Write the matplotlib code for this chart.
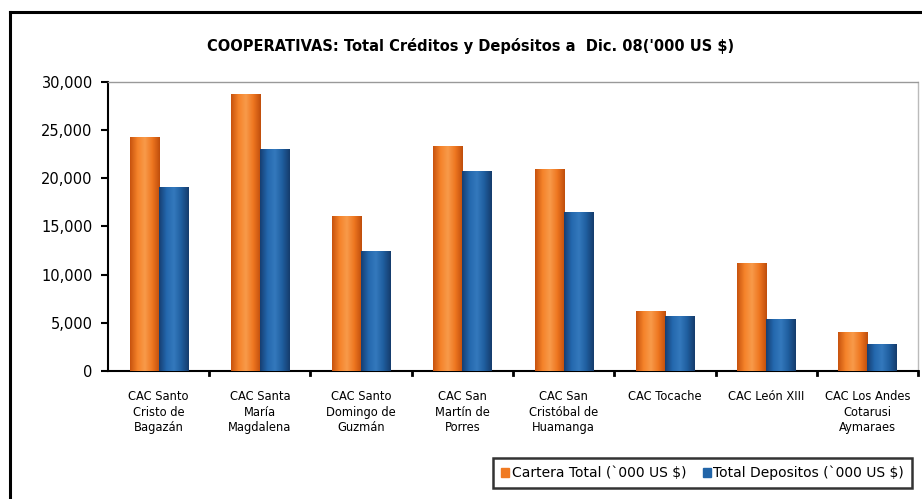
import numpy as np
import matplotlib
matplotlib.use("Agg")
import matplotlib.pyplot as plt
from matplotlib.patches import Rectangle
from matplotlib.lines import Line2D
from matplotlib.colors import LinearSegmentedColormap

categories = ["CAC Santo\nCristo de\nBagazán", "CAC Santa\nMaría\nMagdalena",
              "CAC Santo\nDomingo de\nGuzmán", "CAC San\nMartín de\nPorres",
              "CAC San\nCristóbal de\nHuamanga", "CAC Tocache", "CAC León XIII",
              "CAC Los Andes\nCotarusi\nAymaraes"]
cartera = [24300, 28800, 16100, 23400, 21000, 6250, 11200, 4000]
depositos = [19100, 23000, 12500, 20800, 16550, 5750, 5350, 2850]
series_names = ["Cartera Total (`000 US $)", "Total Depositos (`000 US $)"]
yticks = [0, 5000, 10000, 15000, 20000, 25000, 30000]

plt.rcParams['font.family'] = ['DejaVu Sans']

fig = plt.figure(figsize=(9.22, 4.99), dpi=100)
fig.patch.set_facecolor("white")
ax = fig.add_axes([0.1171, 0.2565, 0.8786, 0.5792])

x = np.arange(len(categories))
w = 0.287

orange_cmap = LinearSegmentedColormap.from_list("o", ["#C8530E", "#F5832A", "#F89A4A", "#EE7620", "#C04E0C"])
blue_cmap = LinearSegmentedColormap.from_list("b", ["#163F72", "#2468AE", "#3479BD", "#1F5E9F", "#153C6C"])
grad = np.linspace(0, 1, 64).reshape(1, -1)

def draw(xs, vals, cmap, base):
    bars = ax.bar(xs, vals, width=w, color=base, edgecolor="none", zorder=2)
    for b in bars:
        x0, y0 = b.get_x(), b.get_y()
        im = ax.imshow(grad, cmap=cmap, aspect="auto", zorder=3,
                       extent=[x0, x0 + b.get_width(), y0, y0 + b.get_height()])
        im.set_clip_path(b)
    return bars

draw(x - w / 2, cartera, orange_cmap, "#F07A22")
draw(x + w / 2, depositos, blue_cmap, "#2265A8")

ax.set_xlim(-0.5, len(categories) - 0.5)
ax.set_ylim(0, 30000)
ax.set_yticks(yticks)
ax.set_yticklabels([f"{v:,}" for v in yticks], fontsize=10.5)
ax.set_xticks(x)
ax.set_xticklabels(categories, fontsize=8.3, linespacing=1.25)
ax.tick_params(axis="x", length=0, pad=14)
ax.tick_params(axis="y", length=5, width=1.5, color="black", direction="out", pad=6)
# boundary ticks on x axis
for b in np.arange(0.5, len(categories), 1.0):
    ax.plot([b, b], [0, -420], color="black", lw=2, clip_on=False, zorder=5)

for s in ["left", "bottom"]:
    ax.spines[s].set_color("black")
    ax.spines[s].set_linewidth(1.5)
ax.spines["top"].set_color("#999999")
ax.spines["top"].set_linestyle((0, (1, 1)))
ax.spines["top"].set_linewidth(1)
ax.spines["right"].set_color("#BBBBBB")
ax.spines["right"].set_linewidth(1)
ax.set_facecolor("white")

fig.text(0.51, 0.908, "COOPERATIVAS: Total Créditos y Depósitos a  Dic. 08('000 US $)",
         ha="center", va="center", fontsize=10.5, fontweight="bold")

# outer frame (top and left)
fig.add_artist(Line2D([10 / 922, 10 / 922], [0, 1 - 12 / 499], color="black", lw=2.2, transform=fig.transFigure))
fig.add_artist(Line2D([10 / 922, 1], [1 - 12 / 499, 1 - 12 / 499], color="black", lw=2.2, transform=fig.transFigure))

handles = [Rectangle((0, 0), 1, 1, color="#F07A22"), Rectangle((0, 0), 1, 1, color="#2265A8")]
leg = fig.legend(handles, series_names, loc="center", bbox_to_anchor=(702.5 / 922, 1 - 473 / 499),
                 ncol=2, frameon=True, fancybox=False, fontsize=10, handlelength=0.6, handleheight=0.6,
                 handletextpad=0.15, columnspacing=1.2, borderpad=0.55)
leg.get_frame().set_edgecolor("black")
leg.get_frame().set_linewidth(1.8)

fig.savefig("out.png", dpi=100)
